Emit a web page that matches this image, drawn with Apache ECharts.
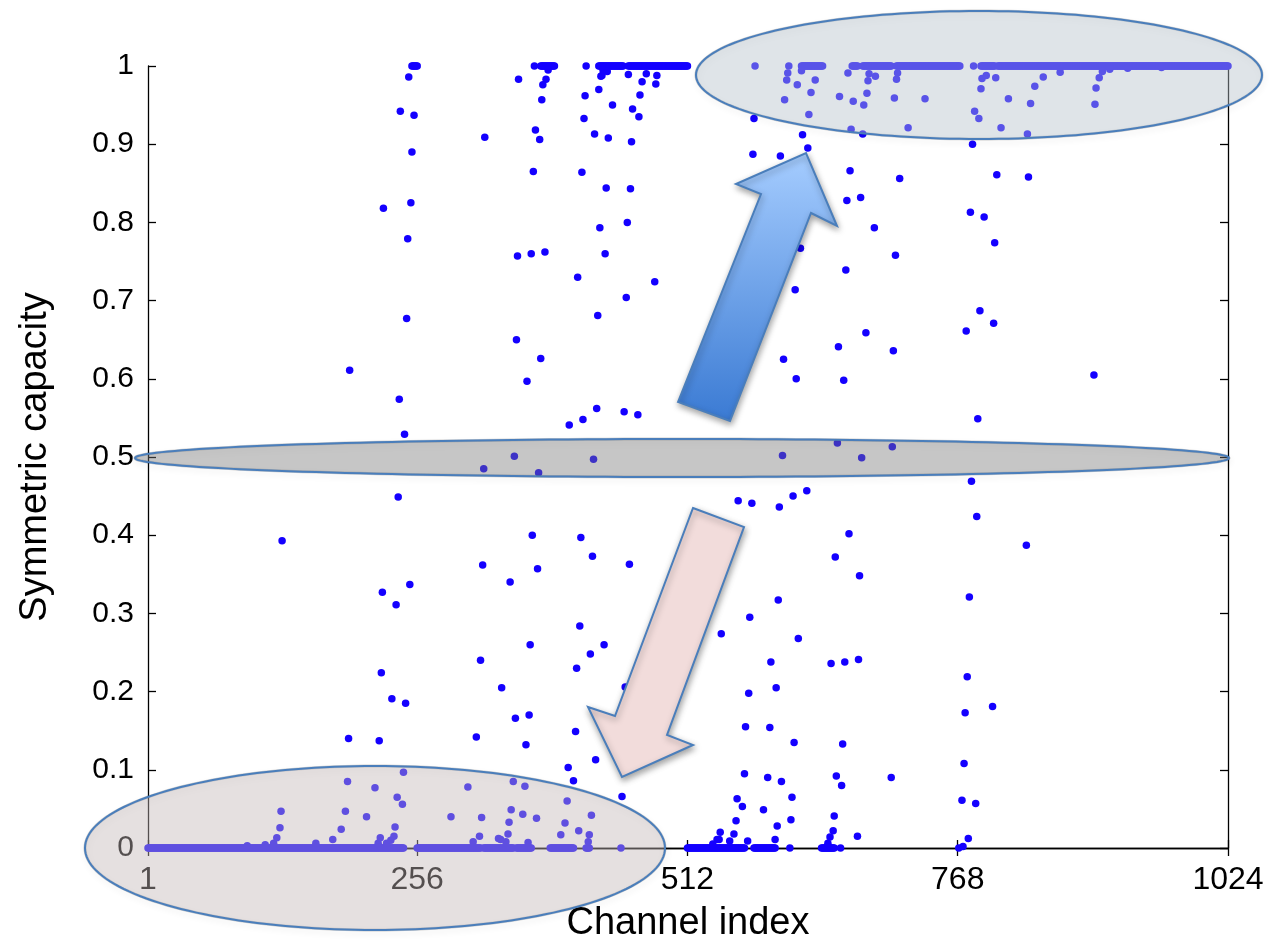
<!DOCTYPE html>
<html>
<head>
<meta charset="utf-8">
<script src="https://cdn.jsdelivr.net/npm/echarts@6/dist/echarts.min.js"></script>
<style>
html,body{margin:0;padding:0;background:#fff;}
#chart{width:1269px;height:944px;}
</style>
</head>
<body>
<div id="chart"></div>
<script>
// ---- data ----
const xTickValues = [1, 256, 512, 768, 1024];
// channel index ranges whose capacity reads as 0
const zeroRuns = [[1,243],[256,316],[319,347],[350,364],[382,404],[416,419],[512,566],[575,595],[639,651]];
// channel index ranges whose capacity reads as 1
const oneRuns = [[251,256],[373,386],[428,451],[456,512],[620,640],[668,673],[678,705],[710,770],[790,803],[806,1024]];
// individual channels [index, capacity]
const scatteredLeft = [
  [95,0.003],[112,0.004],[120,0.006],[123,0.013],[126,0.026],[127,0.047],[128,0.393],[160,0.006],
  [176,0.011],[184,0.024],[188,0.047],[190,0.085],[191,0.140],[192,0.611],[208,0.040],[216,0.077],
  [219,0.006],[220,0.137],[221,0.013],[222,0.224],[223,0.327],[224,0.818],[227,0.006],[231,0.010],
  [232,0.191],[234,0.015],[235,0.027],[236,0.311],[237,0.065],[238,0.449],[239,0.574],[240,0.942],
  [242,0.056],[243,0.097],[244,0.529],[245,0.185],[246,0.677],[247,0.779],[248,0.986],[249,0.337],
  [250,0.825],[251,0.890],[253,0.937]
];
const scatteredMidLeft = [
  [288,0.040],[304,0.078],[309,0.008],[312,0.142],[315,0.015],[316,0.240],[317,0.039],[318,0.362],
  [319,0.485],[320,0.909],[333,0.012],[335,0.011],[336,0.205],[340,0.008],[342,0.018],[343,0.033],
  [344,0.340],[345,0.049],[347,0.085],[348,0.501],[349,0.166],[350,0.650],[351,0.757],[352,0.983],
  [356,0.043],[358,0.079],[359,0.132],[360,0.597],[361,0.007],[362,0.170],[363,0.260],[364,0.760],
  [365,0.400],[366,0.865],[367,1.000],[368,0.918],[369,0.038],[370,0.357],[371,0.480],[372,0.906],
  [373,0.626],[374,0.957],[375,0.976],[377,0.762],[378,0.983],[380,0.995],
  [392,0.017],[396,0.032],[398,0.060],[399,0.103],[400,0.541],[404,0.086],[406,0.149],[407,0.230],
  [408,0.730],[409,0.022],[410,0.284],[411,0.397],[412,0.864],[413,0.548],[414,0.933],[415,0.962],
  [416,1.000],[418,0.008],[419,0.017],[420,0.248],[421,0.042],[422,0.373],[423,0.497],[424,0.913],
  [425,0.113],[426,0.562],[427,0.681],[428,0.970],[429,0.793],[430,0.987],[431,0.988],[432,0.995],
  [433,0.260],[434,0.760],[435,0.844],[436,0.993],[437,0.908],[441,0.950],
  [449,0.000],[450,0.066],[452,0.558],[453,0.206],[454,0.704],[455,0.800],[456,0.989],[457,0.363],
  [458,0.843],[459,0.903],[460,0.945],[465,0.554],[466,0.935],[467,0.963],[469,0.980],[473,0.990],
  [481,0.724],[482,0.977],[483,0.988]
];
const scatteredMidRight = [
  [536,0.005],[540,0.011],[542,0.011],[543,0.020],[544,0.274],[552,0.009],[556,0.018],[558,0.035],
  [559,0.063],[560,0.444],[564,0.053],[566,0.095],[567,0.155],[569,0.009],[570,0.198],[571,0.295],
  [573,0.441],[574,0.887],[575,0.933],[576,1.000],[584,0.049],[588,0.090],[590,0.154],[591,0.238],
  [595,0.011],[596,0.205],[597,0.028],[598,0.317],[599,0.436],[600,0.885],[601,0.085],[602,0.502],
  [603,0.625],[604,0.957],[606,0.982],[607,0.991],[608,1.000],[609,0.000],[610,0.036],[611,0.065],
  [612,0.450],[613,0.135],[614,0.714],[615,0.600],[616,0.976],[617,0.268],[619,0.767],[620,0.994],
  [621,0.912],[625,0.457],[626,0.895],[627,0.938],[629,0.966],[633,0.982],
  [645,0.006],[647,0.014],[648,0.236],[650,0.022],[651,0.041],[652,0.372],[653,0.092],[654,0.518],
  [655,0.641],[656,0.961],[657,0.000],[658,0.080],[659,0.133],[660,0.598],[661,0.238],[662,0.739],
  [663,0.828],[664,0.991],[665,0.402],[666,0.866],[667,0.919],[669,0.955],[673,0.015],[674,0.241],
  [675,0.348],[676,0.832],[677,0.499],[678,0.913],[679,0.950],[681,0.659],[682,0.965],[683,0.981],
  [684,0.990],[689,0.793],[690,0.987],[705,0.090],[706,0.513],[707,0.636],[708,0.959],[709,0.758],
  [710,0.983],[711,0.991],[713,0.856],[721,0.921],[737,0.958]
];
const scatteredRight = [
  [769,0.000],[772,0.061],[773,0.002],[774,0.108],[775,0.173],[776,0.661],[777,0.219],[778,0.012],
  [779,0.321],[780,0.813],[781,0.469],[782,0.900],[783,1.000],[784,0.942],[785,0.057],[786,0.424],
  [787,0.549],[788,0.933],[789,0.687],[790,0.971],[791,0.984],[793,0.807],[795,0.988],[801,0.181],
  [802,0.671],[803,0.774],[804,0.985],[805,0.861],[809,0.921],[816,0.958],[833,0.387],[834,0.913],
  [835,0.858],[837,0.952],[841,0.974],[849,0.986],[865,0.992],[897,0.605],[898,0.951],[899,0.972],
  [902,0.985],[905,0.993],[912,0.996],[929,0.997],[961,0.998]
];

// ---- build the series data ----
function runPoints(runs, value) {
  const out = [];
  runs.forEach(function (r) { for (let i = r[0]; i <= r[1]; i++) out.push([i, value]); });
  return out;
}
const pointData = []
  .concat(runPoints(zeroRuns, 0))
  .concat(runPoints(oneRuns, 1))
  .concat(scatteredLeft, scatteredMidLeft, scatteredMidRight, scatteredRight);

// ---- annotation shapes (pixel geometry) ----
function ellipsePts(cx, cy, rx, ry) {
  const pts = [];
  for (let k = 0; k < 180; k++) {
    const t = k / 180 * 2 * Math.PI;
    pts.push([cx + rx * Math.cos(t), cy + ry * Math.sin(t)]);
  }
  return pts;
}
const strokeBlue = '#4a7ebb';
const shadow = { shadowBlur: 6, shadowColor: 'rgba(0,0,0,0.35)', shadowOffsetX: 1, shadowOffsetY: 3 };

function ellipseElems(cx, cy, rx, ry, fill) {
  return [
    // soft shadow drawn from the outline only
    { type: 'polygon', z: 99, silent: true, shape: { points: ellipsePts(cx, cy, rx, ry) },
      style: { fill: null, stroke: 'rgba(0,0,0,0.18)', lineWidth: 3, shadowBlur: 6,
               shadowColor: 'rgba(0,0,0,0.35)', shadowOffsetX: 1, shadowOffsetY: 3 } },
    { type: 'polygon', z: 100, silent: true, shape: { points: ellipsePts(cx, cy, rx, ry) },
      style: { fill: fill, stroke: strokeBlue, lineWidth: 2 } }
  ];
}

const chart = echarts.init(document.getElementById('chart'));
const axisFont = 'Liberation Sans, Arial, sans-serif';
const frameLine = { show: true, lineStyle: { color: '#000', width: 1.3 } };
chart.setOption({
  animation: false,
  backgroundColor: '#ffffff',
  grid: { left: 148, right: 41, top: 66, bottom: 96, outerBoundsMode: 'none', containLabel: false },
  xAxis: [{
    type: 'value', min: 1, max: 1024, position: 'bottom',
    name: 'Channel index', nameLocation: 'middle', nameGap: 57,
    nameTextStyle: { fontFamily: axisFont, fontSize: 38, color: '#000' },
    axisLine: frameLine,
    axisTick: { show: true, inside: true, length: 8, customValues: xTickValues, lineStyle: { color: '#000', width: 1.3 } },
    axisLabel: { customValues: xTickValues, fontFamily: axisFont, fontSize: 32, color: '#000', margin: 16,
      formatter: function (v) { return String(Math.round(v)); } },
    splitLine: { show: false }
  }, {
    type: 'value', min: 1, max: 1024, position: 'top',
    axisLine: frameLine,
    axisTick: { show: true, inside: true, length: 8, customValues: xTickValues, lineStyle: { color: '#000', width: 1.3 } },
    axisLabel: { show: false },
    splitLine: { show: false }
  }],
  yAxis: [{
    type: 'value', min: 0, max: 1, interval: 0.1, position: 'left',
    name: 'Symmetric capacity', nameLocation: 'middle', nameGap: 93, nameRotate: 90,
    nameTextStyle: { fontFamily: axisFont, fontSize: 38, color: '#000' },
    axisLine: frameLine,
    axisTick: { show: true, inside: true, length: 8, lineStyle: { color: '#000', width: 1.3 } },
    axisLabel: { fontFamily: axisFont, fontSize: 30, color: '#000', margin: 14,
      formatter: function (v) { return String(+v.toFixed(1)); } },
    splitLine: { show: false }
  }, {
    type: 'value', min: 0, max: 1, interval: 0.1, position: 'right',
    axisLine: frameLine,
    axisTick: { show: true, inside: true, length: 8, lineStyle: { color: '#000', width: 1.3 } },
    axisLabel: { show: false },
    splitLine: { show: false }
  }],
  series: [{
    type: 'scatter',
    xAxisIndex: 0, yAxisIndex: 0,
    data: pointData,
    symbol: 'circle',
    symbolSize: 7.5,
    clip: false,
    itemStyle: { color: '#1400ff', opacity: 1 },
    emphasis: { disabled: true }
  }],
  graphic: []
    .concat(ellipseElems(979, 75, 283, 64, 'rgba(181,193,202,0.43)'))
    .concat(ellipseElems(682, 458, 547, 19, 'rgba(118,118,118,0.42)'))
    .concat(ellipseElems(375, 848, 290, 82, 'rgba(195,184,184,0.43)'))
    .concat([
      // blue up arrow
      { type: 'polygon', z: 101, silent: true,
        shape: { points: [[678,402],[761,194],[736,184],[806,153],[837,226],[811,213],[730,421]] },
        style: Object.assign({
          fill: new echarts.graphic.LinearGradient(0, 0, 0, 1, [
            { offset: 0, color: '#a6cdff' }, { offset: 1, color: '#3a7ad3' }
          ]),
          stroke: strokeBlue, lineWidth: 2 }, shadow) },
      // pink down arrow
      { type: 'polygon', z: 101, silent: true,
        shape: { points: [[693,508],[744,527],[667,735],[693,745],[622,777],[588,707],[615,716]] },
        style: Object.assign({ fill: '#f2dcdb', stroke: strokeBlue, lineWidth: 2 }, shadow) }
    ])
});
</script>
</body>
</html>
